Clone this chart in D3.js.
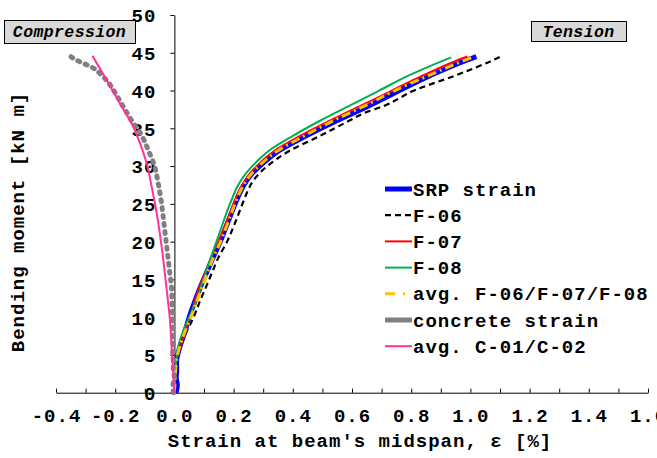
<!DOCTYPE html>
<html>
<head>
<meta charset="utf-8">
<script src="https://cdn.jsdelivr.net/npm/d3@7"></script>
<style>
body { margin: 0; background: #fff; }
svg text { font-family: "Liberation Mono", "Courier New", monospace; font-weight: bold; }
</style>
</head>
<body>
<div id="chart"></div>
<script>
// strain in %, bending moment in kN m
const srpMoment = [0, 1, 2, 3, 4, 6, 8, 10, 12, 14, 16, 18, 20, 22, 24, 26, 27, 28, 29, 30, 31, 32, 34, 36, 38, 40, 42, 44, 44.5];
const srpStrain = [0.005, 0.010, 0.006, 0.008, 0.007, 0.018, 0.035, 0.050, 0.068, 0.088, 0.110, 0.132, 0.155, 0.175, 0.195, 0.216, 0.228, 0.243, 0.262, 0.288, 0.318, 0.352, 0.445, 0.548, 0.658, 0.760, 0.865, 0.985, 1.020];

const f06Moment = [0, 2, 4, 6, 8, 10, 12, 14, 16, 18, 20, 22, 24, 26, 27, 28, 29, 30, 31, 32, 34, 36, 37, 38, 40, 42, 44, 44.6];
const f06Strain = [0, 0.003, 0.006, 0.018, 0.040, 0.065, 0.085, 0.107, 0.128, 0.150, 0.178, 0.200, 0.220, 0.240, 0.251, 0.265, 0.286, 0.314, 0.348, 0.388, 0.492, 0.590, 0.640, 0.710, 0.810, 0.950, 1.075, 1.107];

const f07Moment = [0, 2, 4, 6, 8, 10, 12, 14, 16, 18, 20, 22, 24, 26, 27, 28, 29, 30, 31, 32, 34, 36, 38, 40, 42, 44, 44.5];
const f07Strain = [0, 0.002, 0.005, 0.020, 0.037, 0.053, 0.068, 0.085, 0.105, 0.125, 0.148, 0.170, 0.190, 0.210, 0.222, 0.237, 0.255, 0.278, 0.305, 0.337, 0.425, 0.525, 0.630, 0.735, 0.840, 0.955, 0.990];

const f08Moment = [0, 2, 4, 5, 6, 8, 10, 12, 14, 16, 18, 20, 22, 24, 26, 27, 28, 29, 30, 31, 32, 34, 36, 38, 40, 42, 44, 44.4];
const f08Strain = [0, 0.003, 0.006, 0.008, 0.012, 0.028, 0.050, 0.072, 0.090, 0.107, 0.124, 0.142, 0.160, 0.178, 0.198, 0.209, 0.223, 0.241, 0.263, 0.289, 0.318, 0.400, 0.492, 0.592, 0.692, 0.792, 0.910, 0.935];

const avgFMoment = [0, 2, 4, 6, 8, 10, 12, 14, 16, 18, 20, 22, 24, 26, 27, 28, 29, 30, 31, 32, 34, 36, 38, 40, 42, 44, 44.4];
const avgFStrain = [0, 0.003, 0.006, 0.017, 0.035, 0.056, 0.075, 0.094, 0.113, 0.133, 0.156, 0.176, 0.195, 0.215, 0.227, 0.242, 0.261, 0.285, 0.314, 0.348, 0.439, 0.536, 0.645, 0.745, 0.860, 0.980, 1.007];

const concMoment = [0, 1, 2, 3, 4, 5, 6, 8, 10, 12, 14, 16, 18, 20, 22, 24, 26, 28, 30, 32, 34, 36, 38, 40, 41, 42, 43, 43.7, 44, 44.5];
const concStrain = [-0.003, -0.005, 0.000, -0.004, -0.003, -0.006, -0.004, -0.005, -0.006, -0.008, -0.010, -0.016, -0.022, -0.028, -0.034, -0.040, -0.047, -0.056, -0.067, -0.087, -0.110, -0.144, -0.175, -0.205, -0.222, -0.245, -0.275, -0.313, -0.330, -0.350];

const avgCMoment = [0, 5.7, 9.6, 13.6, 19.3, 23.8, 27.3, 30.4, 33, 35.2, 38.3, 41.4, 44.6];
const avgCStrain = [0, -0.009, -0.015, -0.026, -0.043, -0.060, -0.077, -0.094, -0.116, -0.139, -0.184, -0.229, -0.277];

const seriesNames = ['SRP strain', 'F-06', 'F-07', 'F-08', 'avg. F-06/F-07/F-08', 'concrete strain', 'avg. C-01/C-02'];
const xTicks = d3.range(-4, 17).map(i => i / 10);
const yTicks = d3.range(0, 51, 5);

const width = 657, height = 458;

const series = [
  { name: seriesNames[0], x: srpStrain, y: srpMoment, color: '#0000ff', w: 5, dash: null },
  { name: seriesNames[1], x: f06Strain, y: f06Moment, color: '#000000', w: 2.2, dash: '6,4' },
  { name: seriesNames[2], x: f07Strain, y: f07Moment, color: '#ff0000', w: 2, dash: null },
  { name: seriesNames[3], x: f08Strain, y: f08Moment, color: '#00b050', w: 2, dash: null },
  { name: seriesNames[4], x: avgFStrain, y: avgFMoment, color: '#ffc000', w: 3, dash: '9,4,2,4' },
  { name: seriesNames[5], x: concStrain, y: concMoment, color: '#808080', w: 5, dash: '2,6', cap: 'round' },
  { name: seriesNames[6], x: avgCStrain, y: avgCMoment, color: '#ff3399', w: 2, dash: null }
];

const svg = d3.select('#chart')
  .append('svg')
  .attr('width', width)
  .attr('height', height);

let x = d3.scaleLinear()
  .domain([-0.4, 1.6])
  .range([56, 648]);

let y = d3.scaleLinear()
  .domain([0, 50])
  .range([392.7, 15]);

// axes
const xAxis = svg.append('g')
  .attr('transform', 'translate(0,' + y(0) + ')')
  .call(d3.axisBottom(x).tickValues(xTicks).tickSizeInner(-4).tickSizeOuter(0)
    .tickFormat(d => Math.round(d * 10) % 2 ? '' : d.toFixed(1)));

xAxis.select('.domain').attr('stroke', '#000');
xAxis.selectAll('.tick line').attr('stroke', '#000');
xAxis.selectAll('.tick text')
  .attr('y', 29)
  .attr('dy', null)
  .attr('fill', '#000')
  .style('font-size', '19px')
  .style('letter-spacing', '1px')
  .style('font-family', '"Liberation Mono", monospace');

const yAxis = svg.append('g')
  .attr('transform', 'translate(' + x(0) + ',0)')
  .call(d3.axisLeft(y).tickValues(yTicks).tickSize(4).tickSizeOuter(0).tickPadding(14));

yAxis.select('.domain').attr('stroke', '#000');
yAxis.selectAll('.tick line').attr('stroke', '#000');
yAxis.selectAll('.tick text')
  .attr('fill', '#000')
  .attr('dy', '0.36em')
  .style('font-size', '19px')
  .style('letter-spacing', '1px')
  .style('font-family', '"Liberation Mono", monospace');

// axis titles
svg.append('text')
  .attr('x', 360)
  .attr('y', 447)
  .attr('text-anchor', 'middle')
  .style('font-size', '19px')
  .style('letter-spacing', '1px')
  .text("Strain at beam's midspan, \u03b5 [%]");

svg.append('text')
  .attr('transform', 'translate(24,222)rotate(-90)')
  .attr('text-anchor', 'middle')
  .style('font-size', '19px')
  .style('letter-spacing', '1px')
  .text('Bending moment [kN m]');

// data lines
const lines = svg.append('g');

series.forEach(s => {
  let line = d3.line()
    .x(d => x(d[0]))
    .y(d => y(d[1]))
    .curve(d3.curveMonotoneY);

  lines.append('path')
    .datum(s.x.map((v, i) => [v, s.y[i]]))
    .attr('d', line)
    .attr('fill', 'none')
    .attr('stroke', s.color)
    .attr('stroke-width', s.w)
    .attr('stroke-dasharray', s.dash)
    .attr('stroke-linecap', s.cap || 'butt')
    .attr('stroke-linejoin', 'round');
});

// legend
const legend = svg.append('g');

series.forEach((s, i) => {
  let ly = 189 + i * 26.2;

  legend.append('line')
    .attr('x1', 385)
    .attr('x2', 412)
    .attr('y1', ly)
    .attr('y2', ly)
    .attr('stroke', s.color)
    .attr('stroke-width', s.w)
    .attr('stroke-dasharray', i == 1 ? '6,4' : (i == 4 ? '10,8,2,8' : null));

  legend.append('text')
    .attr('x', 413)
    .attr('y', ly + 6.5)
    .style('font-size', '19px')
    .style('letter-spacing', '1px')
    .text(s.name);
});

// boxed labels
const boxes = [
  { label: 'Compression', x: 4, y: 20, w: 131, h: 23 },
  { label: 'Tension', x: 531, y: 21, w: 95, h: 20 }
];

boxes.forEach(b => {
  svg.append('rect')
    .attr('x', b.x + 0.5)
    .attr('y', b.y + 0.5)
    .attr('width', b.w)
    .attr('height', b.h)
    .attr('fill', '#d9d9d9')
    .attr('stroke', '#000')
    .attr('stroke-width', 1);

  svg.append('text')
    .attr('x', b.x + b.w / 2)
    .attr('y', b.y + b.h / 2 + 5.5)
    .attr('text-anchor', 'middle')
    .style('font-size', '16.5px')
    .style('font-style', 'italic')
    .style('letter-spacing', '0.4px')
    .text(b.label);
});
</script>
</body>
</html>
